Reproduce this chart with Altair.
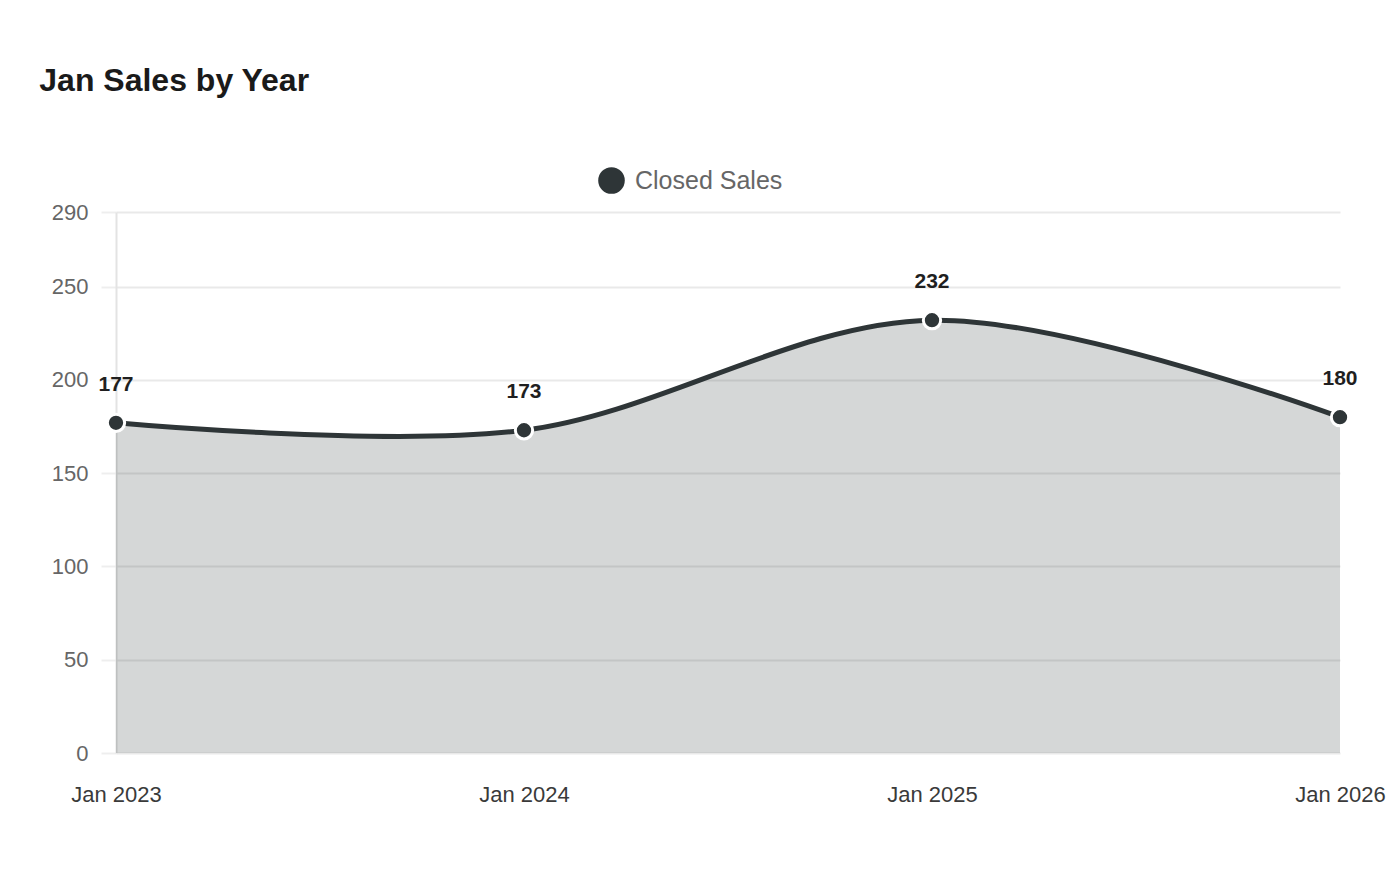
import pandas as pd
import altair as alt

# chart values
months = ["Jan 2023", "Jan 2024", "Jan 2025", "Jan 2026"]
closed_sales = [177, 173, 232, 180]
series_name = ["Closed Sales"] * len(months)
y_ticks = [0, 50, 100, 150, 200, 250, 290]

c_dark = "#2e3537"
c_font = "Liberation Sans"

df = pd.DataFrame({"month": months, "sales": closed_sales, "series": series_name})

base = alt.Chart(df).encode(
    x=alt.X(
        "month:N",
        sort=months,
        scale=alt.Scale(padding=0),
        axis=alt.Axis(
            title=None,
            labelAngle=0,
            labelFontSize=22,
            labelFont=c_font,
            labelColor="#3a3a3a",
            labelPadding=31,
            ticks=False,
            domain=False,
            grid=False,
        ),
    ),
    y=alt.Y(
        "sales:Q",
        scale=alt.Scale(domain=[0, 290], nice=False),
        axis=alt.Axis(
            title=None,
            values=y_ticks,
            labelFontSize=22,
            labelFont=c_font,
            labelColor="#666666",
            labelPadding=13,
            tickSize=15,
            tickWidth=2,
            tickColor="#eeeeee",
            gridColor="#e9e9e9",
            gridWidth=2,
            domainColor="#e3e3e3",
            domainWidth=2,
        ),
    ),
)

area = base.mark_area(interpolate="cardinal", color=c_dark, fillOpacity=0.2)
line = base.mark_line(interpolate="cardinal", color=c_dark, strokeWidth=5)

points = base.mark_point(filled=True, size=300, stroke="white", strokeWidth=3, opacity=1).encode(
    fill=alt.Fill(
        "series:N",
        scale=alt.Scale(range=[c_dark]),
        legend=alt.Legend(
            title=None,
            orient="none",
            legendX=482,
            legendY=-45,
            padding=0,
            symbolType="circle",
            symbolSize=707,
            symbolStrokeWidth=0,
            labelFontSize=25,
            labelFont=c_font,
            labelColor="#666666",
            labelOffset=10,
        ),
    )
)

labels = base.mark_text(
    dy=-38, fontSize=21, fontWeight="bold", font=c_font, color="#1f1f1f"
).encode(text="sales:Q")

chart = (
    alt.layer(area, line, points, labels)
    .properties(
        width=1224,
        height=541,
        autosize=alt.AutoSizeParams(type="none"),
        padding={"left": 108, "top": 204, "right": 52, "bottom": 100},
        title=alt.TitleParams(
            "Jan Sales by Year",
            anchor="start",
            dx=-12,
            fontSize=32,
            fontWeight="bold",
            font=c_font,
            color="#1a1a1a",
            baseline="alphabetic",
            offset=44,
        ),
    )
    .configure_view(strokeWidth=0)
)

chart.save("out.html", embed_options={"renderer": "svg", "actions": False})
